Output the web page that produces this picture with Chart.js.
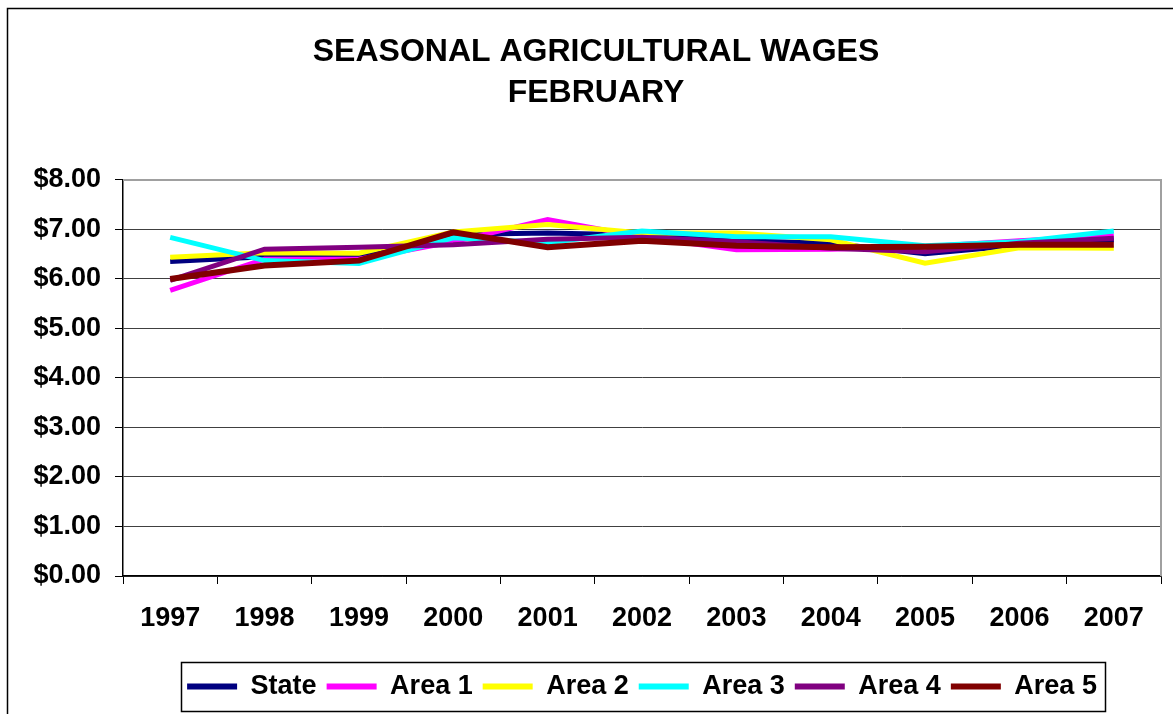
<!DOCTYPE html>
<html>
<head>
<meta charset="utf-8">
<script src="https://cdn.jsdelivr.net/npm/chart.js@4"></script>
<style>
html,body{margin:0;padding:0;background:#fff;}
canvas{display:block;}
</style>
</head>
<body>
<canvas id="c" width="1173" height="714"></canvas>
<script>
const years = ['1997','1998','1999','2000','2001','2002','2003','2004','2005','2006','2007'];
const stateWages = [6.35, 6.45, 6.45, 6.90, 6.93, 6.89, 6.77, 6.72, 6.51, 6.68, 6.79];
const area1Wages = [5.77, 6.40, 6.40, 6.75, 7.20, 6.85, 6.59, 6.60, 6.65, 6.77, 6.87];
const area2Wages = [6.44, 6.53, 6.52, 6.95, 7.10, 6.93, 6.93, 6.79, 6.32, 6.63, 6.62];
const area3Wages = [6.84, 6.37, 6.31, 6.83, 6.73, 6.97, 6.85, 6.85, 6.67, 6.75, 6.97];
const area4Wages = [5.97, 6.60, 6.64, 6.69, 6.80, 6.84, 6.75, 6.62, 6.55, 6.72, 6.82];
const area5Wages = [6.00, 6.27, 6.37, 6.94, 6.64, 6.77, 6.67, 6.64, 6.65, 6.69, 6.69];
const yTicks = [0, 1, 2, 3, 4, 5, 6, 7, 8];

const FONT = "'Liberation Sans', Arial, sans-serif";

function ds(label, data, color, order, width) {
  return {label, data, borderColor: color, backgroundColor: color, borderWidth: width,
    pointRadius: 0, pointHoverRadius: 0, tension: 0, fill: false, order};
}

const framePlugin = {
  id: 'frame',
  beforeDraw(chart) {
    const ctx = chart.ctx;
    ctx.save();
    ctx.fillStyle = '#fff';
    ctx.fillRect(0, 0, chart.width, chart.height);
    ctx.strokeStyle = '#000';
    ctx.lineWidth = 1.5;
    ctx.beginPath();
    ctx.moveTo(7.5, chart.height);
    ctx.lineTo(7.5, 8.5);
    ctx.lineTo(chart.width, 8.5);
    ctx.stroke();
    ctx.restore();
  },
  afterDraw(chart) {
    const ctx = chart.ctx;
    const a = chart.chartArea;
    ctx.save();
    ctx.strokeStyle = '#a0a0a0';
    ctx.lineWidth = 2;
    ctx.beginPath();
    ctx.moveTo(a.left, a.top);
    ctx.lineTo(a.right, a.top);
    ctx.lineTo(a.right, a.bottom);
    ctx.stroke();
    // legend border
    const lg = chart.legend;
    if (lg && lg.legendHitBoxes && lg.legendHitBoxes.length) {
      let l = Infinity, r = -Infinity, t = Infinity, b = -Infinity;
      lg.legendHitBoxes.forEach(h => {
        l = Math.min(l, h.left); r = Math.max(r, h.left + h.width);
        t = Math.min(t, h.top); b = Math.max(b, h.top + h.height);
      });
      ctx.strokeStyle = '#000';
      ctx.lineWidth = 1.5;
      ctx.strokeRect(Math.round(l - 6) + 0.5, Math.round(t - 11) + 0.5, Math.round(r - l + 14), Math.round(b - t + 22));
    }
    ctx.restore();
  }
};

new Chart(document.getElementById('c'), {
  type: 'line',
  data: {
    labels: years,
    datasets: [
      ds('State', stateWages, '#000080', 6, 5),
      ds('Area 1', area1Wages, '#FF00FF', 5, 5),
      ds('Area 2', area2Wages, '#FFFF00', 4, 5),
      ds('Area 3', area3Wages, '#00FFFF', 3, 5),
      ds('Area 4', area4Wages, '#800080', 2, 5),
      ds('Area 5', area5Wages, '#800000', 1, 6)
    ]
  },
  options: {
    responsive: false,
    animation: false,
    events: [],
    layout: {padding: {left: 31, right: 12, top: 31.5, bottom: 4}},
    plugins: {
      tooltip: {enabled: false},
      title: {
        display: true,
        text: ['SEASONAL AGRICULTURAL WAGES', 'FEBRUARY'],
        color: '#000',
        font: {family: FONT, size: 32, weight: 'bold', lineHeight: 1.28},
        padding: {top: 0, bottom: 66.5}
      },
      legend: {
        position: 'bottom',
        fullSize: false,
        labels: {
          color: '#000',
          font: {family: FONT, size: 27, weight: 'bold'},
          boxWidth: 50,
          boxHeight: 6,
          padding: 10,
          sort: (a, b) => a.datasetIndex - b.datasetIndex,
          generateLabels: (chart) => Chart.defaults.plugins.legend.labels.generateLabels(chart).map(l => Object.assign(l, {lineWidth: 0, strokeStyle: l.fillStyle}))
        }
      }
    },
    scales: {
      x: {
        offset: true,
        grid: {display: true, drawOnChartArea: false, drawTicks: true, tickLength: 8, tickColor: '#000', offset: true},
        border: {display: true, color: '#000', width: 1.5},
        ticks: {color: '#000', font: {family: FONT, size: 27, weight: 'bold'}, padding: 18, maxRotation: 0, autoSkip: false},
        afterFit: (s) => { s.height = 87; }
      },
      y: {
        min: 0, max: 8,
        afterBuildTicks: (s) => { s.ticks = yTicks.map(v => ({value: v})); },
        grid: {color: '#404040', lineWidth: 1, tickLength: 8, tickColor: '#000'},
        border: {display: true, color: '#000', width: 1.5},
        ticks: {color: '#000', font: {family: FONT, size: 27, weight: 'bold'}, padding: 14,
          callback: (v) => '$' + Number(v).toFixed(2)},
        afterFit: (s) => { s.width = 92; }
      }
    }
  },
  plugins: [framePlugin]
});
</script>
</body>
</html>
